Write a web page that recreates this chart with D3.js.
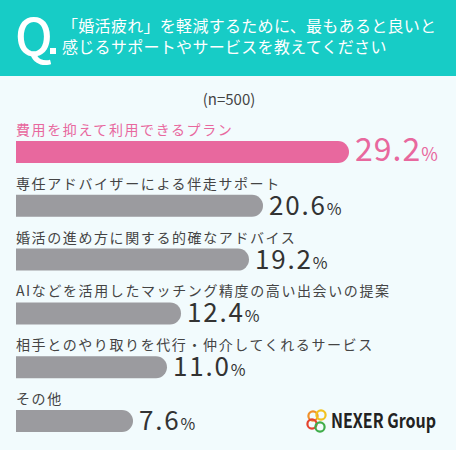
<!DOCTYPE html>
<html>
<head>
<meta charset="utf-8">
<script src="https://cdn.jsdelivr.net/npm/d3@7"></script>
<style>
  html, body { margin: 0; padding: 0; background: #f2fbfd; }
  svg { display: block; }
  text { font-family: "Noto Sans CJK JP", "Noto Sans", sans-serif; }
</style>
</head>
<body>
<svg id="chart" width="456" height="450"></svg>
<script>
// data
const categories = [
  "費用を抑えて利用できるプラン",
  "専任アドバイザーによる伴走サポート",
  "婚活の進め方に関する的確なアドバイス",
  "AIなどを活用したマッチング精度の高い出会いの提案",
  "相手とのやり取りを代行・仲介してくれるサービス",
  "その他"
];
const values = [29.2, 20.6, 19.2, 12.4, 11.0, 7.6];
const titleLines = [
  "「婚活疲れ」を軽減するために、最もあると良いと",
  "感じるサポートやサービスを教えてください"
];
const sampleNote = "(n=500)";

const W = 456, H = 450;
const svg = d3.select("#chart");

svg.append("rect").attr("width", W).attr("height", H).attr("fill", "#f2fbfd");

// header
svg.append("rect").attr("width", W).attr("height", 76).attr("fill", "#17ccc6");
svg.append("text")
  .attr("x", 15).attr("y", 55)
  .attr("font-family", "'Noto Sans', sans-serif")
  .attr("font-size", 50).attr("font-weight", 500)
  .attr("fill", "#fff")
  .text("Q");
svg.append("rect").attr("x", 50).attr("y", 48).attr("width", 6).attr("height", 6).attr("fill", "#fff");
svg.selectAll(".title")
  .data(titleLines)
  .join("text")
  .attr("class", "title")
  .attr("x", 62)
  .attr("y", (d, i) => 32 + i * 21)
  .attr("font-size", 16)
  .attr("letter-spacing", 0.3)
  .attr("fill", "#fff")
  .text(d => d);

svg.append("text")
  .attr("x", 229).attr("y", 105)
  .attr("text-anchor", "middle")
  .attr("font-family", "'Noto Sans', sans-serif")
  .attr("font-size", 15)
  .attr("fill", "#444")
  .text(sampleNote);

// scales
const x = d3.scaleLinear().domain([0, 29.2]).range([57, 349]);
const y = d3.scalePoint().domain(categories).range([141, 410]);
const barH = 22, x0 = 16, r = barH / 2;

const pink = "#e8689e", grey = "#9b9b9f";

function barPath(v, top) {
  const w = x(v) - x0;
  return `M${x0},${top}h${w - r}a${r},${r} 0 0 1 0,${barH}h${-(w - r)}Z`;
}

const rows = svg.selectAll(".row")
  .data(categories.map((c, i) => ({ cat: c, val: values[i], i: i })))
  .join("g")
  .attr("class", "row");

rows.append("text")
  .attr("x", x0)
  .attr("y", d => y(d.cat) - 6)
  .attr("font-size", 14)
  .attr("letter-spacing", 1.6)
  .attr("fill", d => d.i === 0 ? pink : "#444")
  .text(d => d.cat);

rows.append("path")
  .attr("d", d => barPath(d.val, y(d.cat)))
  .attr("fill", d => d.i === 0 ? pink : grey);

const vals = rows.append("text")
  .attr("x", d => x(d.val) + 6)
  .attr("y", d => y(d.cat) + barH - 2)
  .attr("font-family", "'Open Sans', 'Noto Sans', sans-serif")
  .attr("font-weight", 400)
  .attr("fill", d => d.i === 0 ? pink : "#333");
vals.append("tspan")
  .attr("font-size", d => d.i === 0 ? 32 : 26)
  .attr("letter-spacing", d => d.i === 0 ? 1 : 1.8)
  .text(d => d.val.toFixed(1));
vals.append("tspan")
  .attr("font-size", d => d.i === 0 ? 18 : 16)
  .text("%");

// logo
const logo = svg.append("g");
const rings = [
  { cx: 313, cy: 416, c: "#f0902a" },
  { cx: 321, cy: 415, c: "#f2c21f" },
  { cx: 312, cy: 424, c: "#e5432f" },
  { cx: 320, cy: 427, c: "#40ad4a" }
];
logo.selectAll("circle")
  .data(rings)
  .join("circle")
  .attr("cx", d => d.cx).attr("cy", d => d.cy).attr("r", 4.6)
  .attr("fill", "none").attr("stroke", d => d.c).attr("stroke-width", 2.2);
logo.append("text")
  .attr("x", 331).attr("y", 428)
  .attr("font-family", "'Noto Sans', sans-serif")
  .attr("font-size", 20).attr("font-weight", 700)
  .attr("textLength", 105).attr("lengthAdjust", "spacingAndGlyphs")
  .attr("fill", "#222")
  .text("NEXER Group");
</script>
</body>
</html>
